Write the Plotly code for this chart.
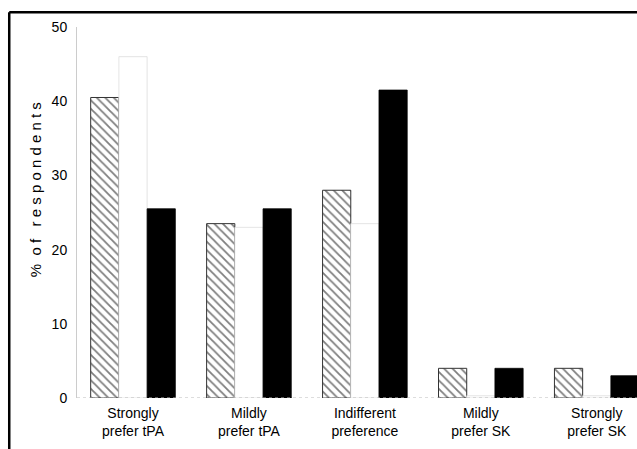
import plotly.graph_objects as go

categories = ["Strongly<br>prefer tPA", "Mildly<br>prefer tPA", "Indifferent<br>preference",
              "Mildly<br>prefer SK", "Strongly<br>prefer SK"]
hatched_vals = [40.5, 23.5, 28.0, 4.0, 4.0]
white_vals = [46.0, 23.0, 23.5, 0.3, 0.3]
black_vals = [25.5, 25.5, 41.5, 4.0, 3.0]
y_ticks = [0, 10, 20, 30, 40, 50]

fig = go.Figure()
fig.add_trace(go.Bar(
    x=categories, y=hatched_vals, name="A",
    marker=dict(color="white", line=dict(color="#333", width=1),
                pattern=dict(shape="\\", fgcolor="black", bgcolor="white", size=6, solidity=0.3)),
))
fig.add_trace(go.Bar(
    x=categories, y=white_vals, name="B",
    marker=dict(color="white", line=dict(color="#ddd", width=0.8)),
))
fig.add_trace(go.Bar(
    x=categories, y=black_vals, name="C",
    marker=dict(color="black", line=dict(color="black", width=0.8)),
))

fig.update_layout(
    width=637, height=449,
    margin=dict(l=77, r=0, t=27, b=51),
    paper_bgcolor="white", plot_bgcolor="white",
    barmode="group", bargap=0.27, bargroupgap=0,
    showlegend=False,
    font=dict(family="Liberation Sans, Arial, sans-serif", color="black", size=14),
    xaxis=dict(showline=False, showgrid=False, ticks="", tickfont=dict(size=14),
               range=[-0.483, 4.347], automargin=False, ticklabelstandoff=5),
    yaxis=dict(range=[0, 50], tickvals=y_ticks, showgrid=False, zeroline=False,
               showline=True, linecolor="#ccc", linewidth=1, ticks="",
               tickfont=dict(size=14), ticklabelstandoff=6, automargin=False),
    annotations=[
        dict(text="%  o f   r e s p o n d e n t s", xref="paper", yref="paper",
             x=-0.075, y=0.56, textangle=-90, showarrow=False, font=dict(size=15),
             xanchor="center", yanchor="middle"),
    ],
    shapes=[
        dict(type="line", xref="paper", yref="paper", x0=-0.121, x1=-0.121, y0=-0.2, y1=1.04,
             line=dict(color="black", width=2.5)),
        dict(type="line", xref="paper", yref="paper", x0=-0.121, x1=1.01, y0=1.04, y1=1.04,
             line=dict(color="black", width=2.5)),
        dict(type="line", xref="paper", yref="y", x0=0, x1=1, y0=0, y1=0,
             line=dict(color="#bbb", width=1, dash="dot")),
    ],
)

fig.write_html("out.html", config={"displayModeBar": False},
               post_script="document.body.style.margin='0';document.body.style.overflow='hidden';")
